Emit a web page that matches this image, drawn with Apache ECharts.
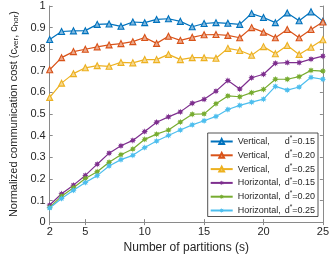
<!DOCTYPE html>
<html><head><meta charset="utf-8">
<script src="https://cdn.jsdelivr.net/npm/echarts@6/dist/echarts.min.js"></script>
<style>html,body{margin:0;padding:0;background:#fff}#c{width:332px;height:259px}</style>
</head><body><div id="c"></div>
<script>
const partitions = [2,3,4,5,6,7,8,9,10,11,12,13,14,15,16,17,18,19,20,21,22,23,24,25];
const xTicks = [2,5,10,15,20,25];
const vert015 = [0.845,0.882,0.885,0.886,0.915,0.917,0.906,0.926,0.923,0.938,0.941,0.929,0.904,0.919,0.923,0.920,0.915,0.965,0.947,0.923,0.968,0.932,0.973,0.930];
const vert020 = [0.705,0.761,0.789,0.800,0.811,0.820,0.826,0.835,0.854,0.827,0.860,0.841,0.855,0.867,0.868,0.864,0.853,0.900,0.879,0.853,0.891,0.853,0.891,0.926];
const vert025 = [0.577,0.643,0.687,0.714,0.724,0.721,0.739,0.737,0.752,0.752,0.776,0.752,0.761,0.761,0.758,0.804,0.794,0.772,0.812,0.779,0.817,0.776,0.809,0.844];
const hor015 = [0.079,0.131,0.171,0.216,0.268,0.319,0.353,0.378,0.419,0.462,0.487,0.510,0.550,0.568,0.606,0.655,0.616,0.668,0.684,0.735,0.738,0.738,0.754,0.768];
const hor020 = [0.068,0.120,0.159,0.202,0.233,0.277,0.312,0.338,0.383,0.407,0.426,0.463,0.499,0.501,0.548,0.584,0.580,0.599,0.614,0.661,0.661,0.673,0.702,0.699];
const hor025 = [0.065,0.109,0.147,0.183,0.215,0.260,0.289,0.309,0.345,0.375,0.401,0.426,0.450,0.469,0.489,0.521,0.540,0.555,0.569,0.628,0.611,0.625,0.670,0.661];
const seriesNames = ['Vertical, d*=0.15','Vertical, d*=0.20','Vertical, d*=0.25','Horizontal, d*=0.15','Horizontal, d*=0.20','Horizontal, d*=0.25'];
const legendKind = ['Vertical,','Vertical,','Vertical,','Horizontal,','Horizontal,','Horizontal,'];
const legendVal = ['0.15','0.20','0.25','0.15','0.20','0.25'];
const allSeries = [vert015, vert020, vert025, hor015, hor020, hor025];

const colors = ['#0072BD','#D95319','#EDB120','#7E2F8E','#77AC30','#4DBEEE'];
const tints = ['#80b8de','#eca98c','#f6d88f','#bf97c7','#bbd597','#a6dff6'];

function starPath(){
  let p = '';
  for (let i = 0; i < 16; i++) {
    const r = (i % 2 === 0) ? 10 : 5.5;
    const a = Math.PI * i / 8 - Math.PI / 2;
    const x = (10 + r * Math.cos(a)).toFixed(2), y = (10 + r * Math.sin(a)).toFixed(2);
    p += (i === 0 ? 'M' : 'L') + x + ' ' + y + ' ';
  }
  return 'path://' + p + 'Z';
}
const STAR = starPath();
const FONT = 'Liberation Sans';

const series = allSeries.map((vals, i) => ({
  name: seriesNames[i],
  type: 'line',
  data: partitions.map((p, j) => [p, vals[j]]),
  symbol: i < 3 ? 'triangle' : STAR,
  symbolSize: i < 3 ? 6 : 6.5,
  showAllSymbol: true,
  lineStyle: { color: colors[i], width: 1.2 },
  itemStyle: { color: i < 3 ? tints[i] : colors[i], borderColor: colors[i], borderWidth: i < 3 ? 1.1 : 0 },
  emphasis: { disabled: true },
  animation: false,
  z: 2 + i
}));

const chart = echarts.init(document.getElementById('c'), null, { renderer: 'canvas' });
const axisCol = '#8a8a8a';
const labelCol = '#262626';
chart.setOption({
  animation: false,
  textStyle: { fontFamily: FONT },
  grid: { left: 37, right: 8, top: 6, bottom: 27, containLabel: false },
  legend: {
    orient: 'vertical', right: 14, top: 133,
    itemWidth: 22, itemHeight: 6, itemGap: 2.3,
    padding: [2, 3, 1, 2],
    backgroundColor: '#fff', borderColor: '#262626', borderWidth: 0.8, borderRadius: 0,
    data: seriesNames,
    formatter: function(name){
      const i = seriesNames.indexOf(name);
      return '{a|' + legendKind[i] + '}{b|d}{s|*}{b|=' + legendVal[i] + '}';
    },
    textStyle: {
      fontFamily: FONT, fontSize: 9, color: labelCol, lineHeight: 10,
      rich: {
        a: { width: 47, fontSize: 9, lineHeight: 10, height: 10, color: labelCol },
        b: { fontSize: 9, lineHeight: 10, height: 10, color: labelCol },
        s: { fontSize: 6.5, lineHeight: 10, height: 10, verticalAlign: 'top', color: labelCol, padding: [-3, 0, 0, 0] }
      }
    }
  },
  xAxis: [{
    type: 'value', min: 2, max: 25,
    name: 'Number of partitions (s)', nameLocation: 'middle', nameGap: 15,
    nameTextStyle: { fontSize: 12, color: labelCol, fontFamily: FONT },
    axisLine: { show: true, lineStyle: { color: axisCol, width: 1 } },
    axisTick: { show: true, inside: true, length: 3, lineStyle: { color: axisCol }, customValues: xTicks },
    axisLabel: { fontSize: 11, color: labelCol, margin: 4, customValues: xTicks, fontFamily: FONT },
    splitLine: { show: false }
  }, {
    type: 'value', min: 2, max: 25, position: 'top',
    axisLine: { show: true, lineStyle: { color: axisCol, width: 1 } },
    axisTick: { show: true, inside: true, length: 3, lineStyle: { color: axisCol }, customValues: xTicks },
    axisLabel: { show: false }, splitLine: { show: false }
  }],
  yAxis: [{
    type: 'value', min: 0, max: 1, interval: 0.1,
    name: '{n|Normalized communication cost (c}{sub|ver}{n|, c}{sub|hor}{n|)}',
    nameLocation: 'middle', nameGap: 22,
    nameTextStyle: {
      fontSize: 11, color: labelCol, fontFamily: FONT,
      rich: {
        n: { fontSize: 11, color: labelCol, fontFamily: FONT },
        sub: { fontSize: 8, color: labelCol, fontFamily: FONT, verticalAlign: 'bottom', padding: [4,0,0,0] }
      }
    },
    axisLine: { show: true, lineStyle: { color: axisCol, width: 1 } },
    axisTick: { show: true, inside: true, length: 3, lineStyle: { color: axisCol } },
    axisLabel: { fontSize: 11, color: labelCol, margin: 4, fontFamily: FONT },
    splitLine: { show: false }
  }, {
    type: 'value', min: 0, max: 1, interval: 0.1, position: 'right',
    axisLine: { show: true, lineStyle: { color: axisCol, width: 1 } },
    axisTick: { show: true, inside: true, length: 3, lineStyle: { color: axisCol } },
    axisLabel: { show: false }, splitLine: { show: false }
  }],
  series: series
});
</script></body></html>
